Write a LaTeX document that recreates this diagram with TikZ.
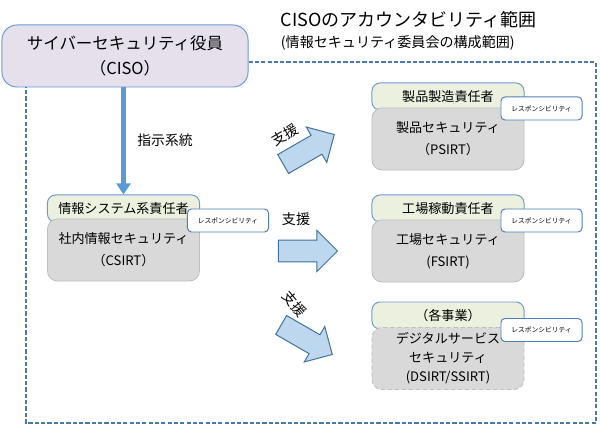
\documentclass[tikz,border=0pt]{standalone}
\usepackage{fontspec}
\setmainfont{Noto Sans CJK JP}
\usepackage{tikz}
\usetikzlibrary{arrows.meta,shapes.arrows,positioning}
\definecolor{cisofill}{HTML}{E5E0EC}
\definecolor{boxline}{HTML}{6C9BD2}
\definecolor{headfill}{HTML}{EBF1DE}
\definecolor{teamfill}{HTML}{D9D9D9}
\definecolor{teamline}{HTML}{BFBFBF}
\definecolor{respline}{HTML}{4F7FB8}
\definecolor{frameline}{HTML}{4A79AD}
\definecolor{supfill}{HTML}{BDD7EE}
\definecolor{supline}{HTML}{41719C}
\definecolor{orderline}{HTML}{5B9BD5}
\tikzset{
  head/.style={rectangle,rounded corners=0.2cm,draw=boxline,fill=headfill,line width=0.7pt,
    minimum width=3.8cm,minimum height=0.675cm,inner sep=0pt,font=\fontsize{9.3}{11}\selectfont},
  team/.style={rectangle,rounded corners=0.25cm,draw=teamline,fill=teamfill,line width=0.6pt,
    minimum width=3.8cm,minimum height=1.55cm,inner sep=0pt,align=center,font=\fontsize{9.3}{15.6}\selectfont},
  resp/.style={rectangle,rounded corners=0.1cm,draw=respline,fill=white,line width=0.7pt,
    minimum width=2.025cm,minimum height=0.575cm,inner sep=0pt,font=\fontsize{4.8}{6}\selectfont},
  support/.style={single arrow,draw=supline,fill=supfill,line width=0.7pt,minimum width=1cm,
    minimum height=1.475cm,single arrow head extend=0.24cm,inner sep=0.26cm},
}
\begin{document}
\begin{tikzpicture}[x=0.025cm,y=-0.025cm,
  ciso/.style={rectangle,rounded corners=0.375cm,draw=boxline,fill=cisofill,line width=0.7pt,
    minimum width=6.15cm,minimum height=1.55cm,align=center,font=\fontsize{11.7}{17.7}\selectfont},
  frame/.style={draw=frameline,line width=1pt,dash pattern=on 3pt off 1.5pt},
  order/.style={draw=orderline,line width=3.5pt,-{Triangle[width=10pt,length=8pt]}}]
\useasboundingbox (0,0) rectangle (600,425);
\node[ciso] (ciso) at (125,56) {サイバーセキュリティ役員\\（CISO）};
\node[anchor=west,font=\fontsize{12.8}{15}\selectfont] (title) at (276,20) {CISOのアカウンタビリティ範囲};
\node[anchor=west,font=\fontsize{10}{12}\selectfont] (subtitle) at (276,43) {(情報セキュリティ委員会の構成範囲)};
\draw[frame] (ciso.east |- 0,62) -- (596,62) -- (596,423) -- (26,423) -- (26,0 |- ciso.south);

\node[head] (csirt-h) at (123.5,208.5) {情報システム系責任者};
\node[team] (csirt) at (123.5,250) {社内情報セキュリティ\\（CSIRT）};
\node[resp] (csirt-r) at (228,220.5) {レスポンシビリティ};
\draw[order] (csirt-h.north |- ciso.south) -- (csirt-h.north);
\node[font=\fontsize{9.8}{12}\selectfont] (order-l) at (165,140) {指示系統};

\node[head] (psirt-h) at (448,96.5) {製品製造責任者};
\node[team] (psirt) at (448,139) {製品セキュリティ\\（PSIRT）};
\node[resp] (psirt-r) at (541.5,108.5) {レスポンシビリティ};

\node[head] (fsirt-h) at (448,208.5) {工場稼動責任者};
\node[team] (fsirt) at (448,251) {工場セキュリティ\\(FSIRT)};
\node[resp] (fsirt-r) at (541.5,220.5) {レスポンシビリティ};

\node[head] (dsirt-h) at (448,315.5) {（各事業）};
\node[team,densely dashed,font=\fontsize{9.3}{13.5}\selectfont] (dsirt) at (448,358.5) {デジタルサービス\\セキュリティ\\(DSIRT/SSIRT)};
\node[resp] (dsirt-r) at (541.5,330) {レスポンシビリティ};

\node[support,rotate=30] (sup-p) at (304,152) {};
\node[support] (sup-f) at (302.5,251) {};
\node[support,rotate=-30] (sup-d) at (302,337) {};
\node[rotate=30,font=\fontsize{10}{12}\selectfont] (sup-p-l) at (285,135) {支援};
\node[font=\fontsize{10}{12}\selectfont] (sup-f-l) at (296,219) {支援};
\node[rotate=-50,font=\fontsize{10}{12}\selectfont] (sup-d-l) at (295,304) {支援};
\end{tikzpicture}
\end{document}
